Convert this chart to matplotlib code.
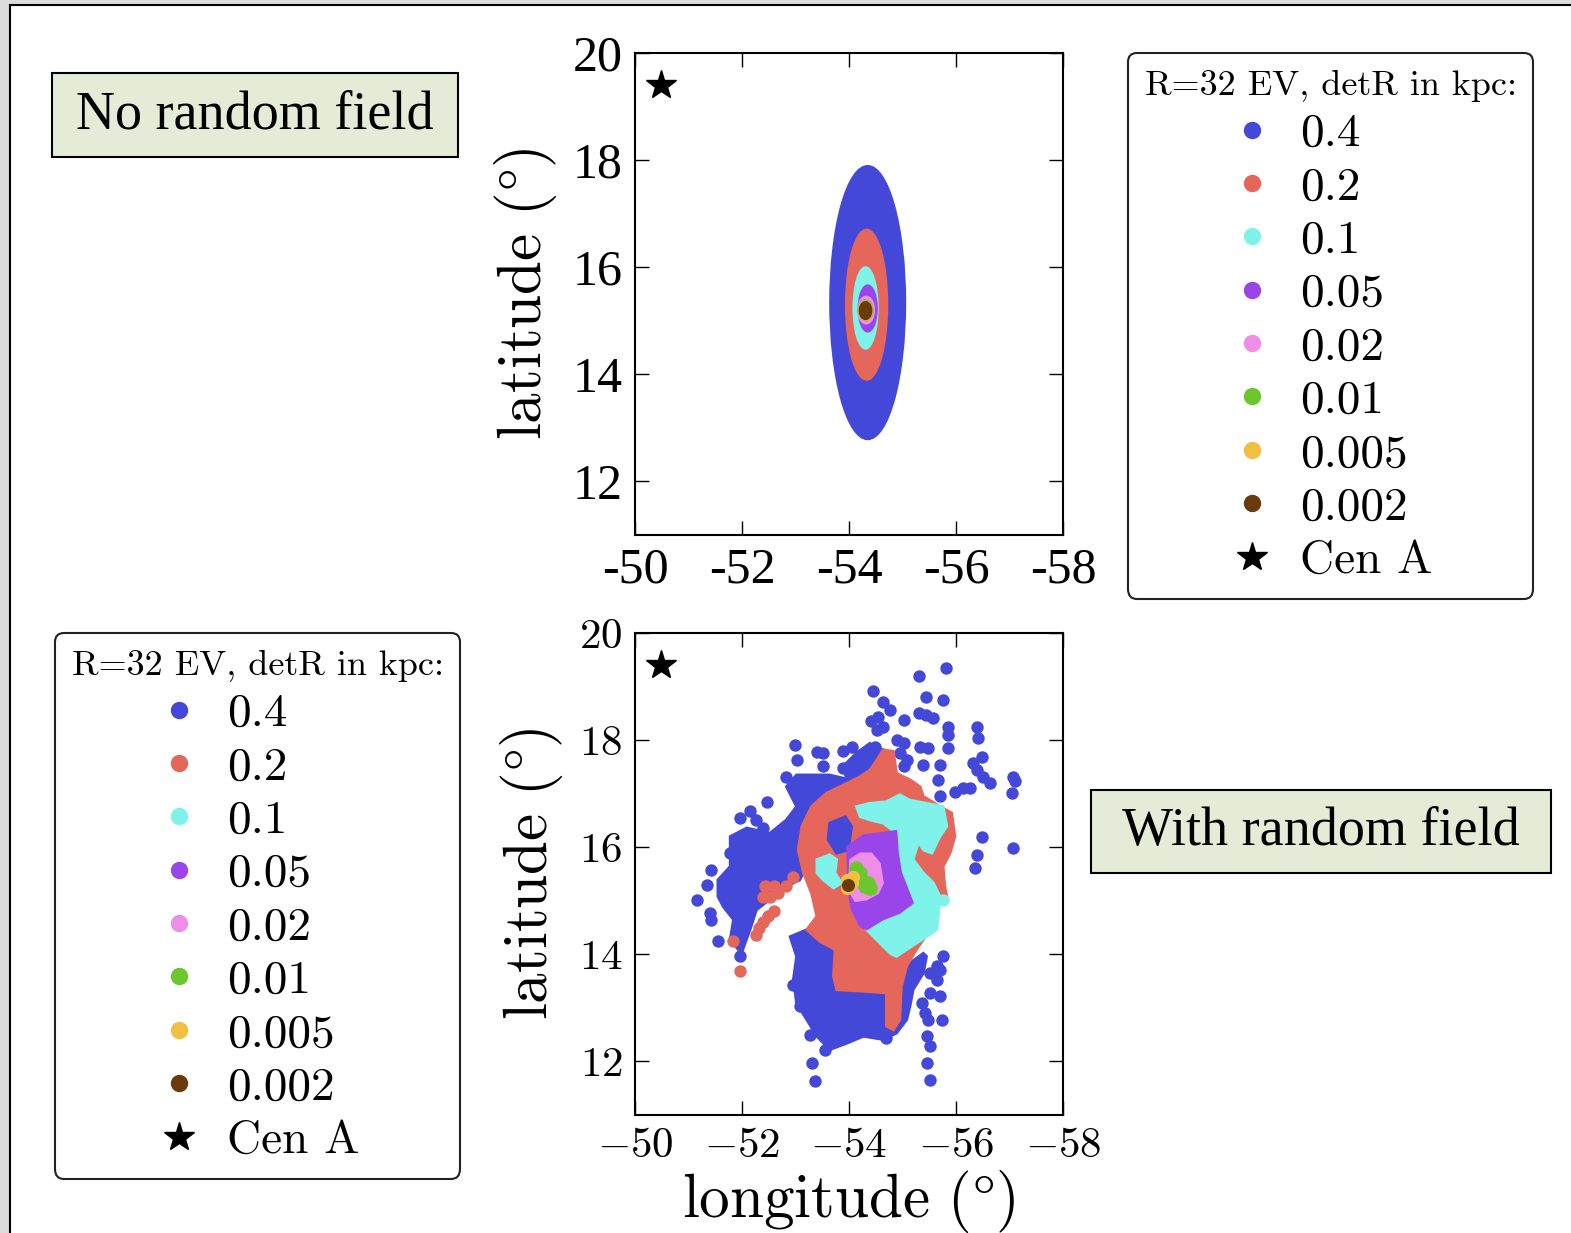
import matplotlib
matplotlib.use("Agg")
import matplotlib.pyplot as plt
from matplotlib.lines import Line2D
from matplotlib.patches import Ellipse, Rectangle

plt.rcParams.update({
    "font.family": "cmr10",
    "mathtext.fontset": "cm",
    "axes.unicode_minus": False,
    "axes.linewidth": 1.5,
})

# ---------------------------------------------------------------- data
levels = ["0.4", "0.2", "0.1", "0.05", "0.02", "0.01", "0.005", "0.002"]
colors = ["#4448d8", "#e5665a", "#7ff3ea", "#9a45ea", "#ee8ee6",
          "#6cc72d", "#f2c040", "#6b3a0a"]

cen_lon, cen_lat = -50.49, 19.40

lon_ticks = [-50, -52, -54, -56, -58]
lat_ticks = [12, 14, 16, 18, 20]

# top panel (no random field): nested clouds, centre and half-extent
top_lon_c = [-54.35, -54.33, -54.31, -54.35, -54.32, -54.31, -54.31, -54.31]
top_lat_c = [15.34, 15.30, 15.24, 15.23, 15.20, 15.20, 15.19, 15.19]
top_lon_hw = [0.70, 0.385, 0.225, 0.17, 0.15, 0.13, 0.12, 0.11]
top_lat_hh = [2.55, 1.40, 0.76, 0.43, 0.25, 0.18, 0.17, 0.16]

# bottom panel (with random field)
# blue (0.4): dense regions outlined + scattered events
blue_w_lon = [-51.78, -52.09, -52.52, -52.83, -53.02, -52.83, -53.02, -53.64, -54.02,
              -54.02, -53.64, -53.40, -53.27, -53.08, -52.83, -52.59, -52.27, -52.15,
              -51.99, -51.78, -51.84, -51.65, -51.55, -51.55, -51.78]
blue_w_lat = [16.20, 16.36, 16.26, 16.51, 16.76, 17.13, 17.35, 17.35, 17.26,
              16.76, 16.51, 16.20, 15.77, 15.39, 15.27, 15.08, 14.83, 14.46,
              14.02, 14.27, 14.65, 14.89, 15.08, 15.39, 15.64]
blue_n_lon = [-53.89, -54.14, -54.39, -54.64, -54.52, -54.39, -54.21, -53.96]
blue_n_lat = [17.51, 17.76, 17.94, 17.82, 17.63, 17.44, 17.32, 17.26]
blue_s_lon = [-52.90, -53.21, -53.46, -53.74, -53.77, -54.27, -54.70, -54.89, -55.14,
              -55.39, -55.45, -55.39, -55.20, -55.14, -55.08, -54.89, -54.64, -54.27,
              -53.96, -53.64, -53.40, -53.21, -53.02, -52.96, -53.02]
blue_s_lat = [14.33, 14.46, 14.24, 14.09, 13.53, 13.40, 13.34, 13.53, 13.84,
              14.02, 13.96, 13.65, 13.34, 13.03, 12.78, 12.53, 12.41, 12.47,
              12.34, 12.22, 12.47, 12.78, 13.09, 13.53, 13.96]
blue_in_lon = [-53.64, -53.93, -54.05, -53.99, -53.77, -53.61]
blue_in_lat = [16.45, 16.57, 16.39, 15.95, 15.89, 16.14]
blue_pts_lon = [-55.81, -55.31, -54.44, -55.44, -55.76, -54.64, -54.77, -55.31, -55.44,
                -55.58, -55.02, -54.42, -54.52, -55.86, -56.39, -55.86, -56.42, -54.89,
                -55.02, -55.33, -55.48, -52.99, -53.40, -53.52, -53.89, -54.05, -54.49,
                -55.86, -56.48, -56.32, -56.39, -56.51, -56.64, -57.07, -57.10, -57.04,
                -55.98, -56.14, -56.26, -55.39, -55.70, -55.67, -55.70, -53.02, -53.52,
                -53.89, -52.83, -52.96, -53.15, -53.40, -53.64, -52.46, -51.96, -52.15,
                -52.27, -52.40, -51.90, -51.96, -51.78, -51.43, -51.34, -51.15, -51.40,
                -51.43, -51.56, -51.96, -56.48, -56.39, -56.36, -57.07, -55.51, -55.64,
                -55.70, -55.42, -55.48, -55.45, -55.51, -55.45, -55.51, -53.27, -53.55,
                -53.30, -53.36, -53.08, -52.96, -54.55, -54.70, -55.73, -55.51, -55.36,
                -55.70, -55.76, -55.64, -54.55, -54.64, -54.95, -55.08, -55.02]
blue_pts_lat = [19.35, 19.19, 18.91, 18.81, 18.75, 18.72, 18.56, 18.50, 18.47,
                18.41, 18.38, 18.35, 18.19, 18.25, 18.25, 18.10, 18.04, 18.00,
                17.94, 17.88, 17.85, 17.91, 17.77, 17.76, 17.79, 17.88, 17.88,
                17.85, 17.69, 17.57, 17.44, 17.32, 17.20, 17.32, 17.23, 17.01,
                17.04, 17.10, 17.10, 17.54, 17.54, 17.26, 16.95, 17.63, 17.51,
                17.48, 17.32, 17.13, 17.07, 17.13, 17.16, 16.85, 16.54, 16.67,
                16.51, 16.36, 16.14, 15.95, 15.89, 15.58, 15.30, 15.02, 14.77,
                14.65, 14.24, 13.96, 16.20, 15.86, 15.61, 15.98, 13.65, 13.53,
                13.22, 12.90, 12.78, 12.47, 12.28, 11.97, 11.66, 12.50, 12.22,
                11.97, 11.63, 13.03, 13.43, 12.53, 12.44, 12.78, 13.28, 13.09,
                13.71, 13.96, 13.78, 18.44, 18.25, 17.76, 17.63, 17.51]

# red (0.2)
red_lon = [-54.64, -54.83, -54.89, -55.14, -55.33, -55.39, -55.70, -55.92, -55.98,
           -55.89, -55.76, -55.79, -55.83, -55.58, -55.48, -55.26, -55.08, -54.98,
           -54.95, -54.83, -54.70, -54.70, -54.27, -53.77, -53.71, -53.74, -53.46,
           -53.21, -53.40, -53.30, -53.15, -53.05, -53.12, -53.30, -53.58, -53.89,
           -54.21, -54.39, -54.52]
red_lat = [17.82, 17.79, 17.38, 17.26, 17.13, 16.95, 16.76, 16.64, 16.20,
           15.89, 15.64, 15.27, 15.08, 14.89, 14.40, 14.09, 13.78, 13.40,
           12.78, 12.59, 12.66, 13.28, 13.31, 13.34, 13.59, 14.09, 14.24,
           14.46, 14.71, 15.14, 15.52, 15.95, 16.39, 16.76, 17.01, 17.16,
           17.32, 17.44, 17.63]
red_pts_lon = [-52.43, -52.59, -52.52, -52.68, -52.40, -52.59, -52.49, -52.40,
               -52.31, -52.27, -51.84, -51.96, -52.83, -52.96]
red_pts_lat = [15.27, 15.27, 15.08, 15.14, 15.08, 14.80, 14.71, 14.61,
               14.49, 14.37, 14.24, 13.68, 15.27, 15.45]

# cyan (0.1)
cyan_lon = [-54.14, -54.39, -54.70, -54.95, -55.14, -55.45, -55.76, -55.83, -55.70,
            -55.55, -55.39, -55.30, -55.20, -55.39, -55.58, -55.70, -55.67, -55.64,
            -55.45, -55.08, -54.89, -54.77, -54.58, -54.33, -54.64, -54.95, -55.20,
            -55.14, -55.02, -54.95, -54.89, -54.64, -54.39, -54.21]
cyan_lat = [16.76, 16.82, 16.85, 16.98, 16.88, 16.82, 16.76, 16.39, 16.20,
            15.89, 15.95, 16.10, 15.77, 15.52, 15.33, 15.08, 14.71, 14.46,
            14.33, 14.09, 13.96, 14.02, 14.21, 14.46, 14.65, 14.77, 14.89,
            15.14, 15.39, 15.77, 16.26, 16.45, 16.51, 16.57]
cyan_w_lon = [-53.40, -53.64, -53.77, -53.74, -53.86, -53.71, -53.52, -53.40]
cyan_w_lat = [15.77, 15.86, 15.77, 15.52, 15.33, 15.24, 15.39, 15.52]
cyan_pts_lon = [-55.76]
cyan_pts_lat = [15.02]

# purple (0.05) and pink (0.02)
purple_lon = [-53.96, -54.27, -54.52, -54.89, -54.92, -54.98, -55.08, -55.20,
              -54.95, -54.64, -54.33, -54.21, -54.05, -53.99]
purple_lat = [16.01, 16.23, 16.26, 16.31, 15.89, 15.52, 15.27, 14.96,
              14.77, 14.65, 14.46, 14.52, 14.83, 15.14]
pink_lon = [-54.02, -54.21, -54.42, -54.58, -54.64, -54.55, -54.33, -54.11, -53.99]
pink_lat = [15.77, 15.89, 15.89, 15.70, 15.33, 15.14, 15.02, 14.99, 15.21]

# green (0.01), yellow (0.005), brown (0.002)
green_lon = [-54.14, -54.21, -54.11, -54.36, -54.39, -54.30]
green_lat = [15.61, 15.52, 15.45, 15.33, 15.24, 15.27]
yellow_lon = [-53.96, -54.05, -53.96, -54.08]
yellow_lat = [15.39, 15.33, 15.24, 15.45]
brown_lon = [-53.99]
brown_lat = [15.30]

# ---------------------------------------------------------------- figure
fig = plt.figure(figsize=(15.71, 12.33), dpi=100)

# slide frame
fig.patches.append(Rectangle((0, 0), 9 / 1571, 1, transform=fig.transFigure,
                             facecolor="#dcdcdc", edgecolor="none"))
fig.patches.append(Rectangle((0, 1 - 5 / 1233), 1, 5 / 1233, transform=fig.transFigure,
                             facecolor="#dcdcdc", edgecolor="none"))
fig.add_artist(Line2D([10 / 1571, 10 / 1571], [0, 1 - 5 / 1233],
                      transform=fig.transFigure, color="black", lw=1.5))
fig.add_artist(Line2D([10 / 1571, 1], [1 - 5 / 1233, 1 - 5 / 1233],
                      transform=fig.transFigure, color="black", lw=1.5))

ax_top = fig.add_axes([0.4042, 0.5661, 0.2724, 0.3909])
ax_bot = fig.add_axes([0.4042, 0.0957, 0.2724, 0.3909])

# top panel
for i in range(len(levels)):
    ax_top.add_patch(Ellipse((top_lon_c[i], top_lat_c[i]), 2 * top_lon_hw[i],
                             2 * top_lat_hh[i], facecolor=colors[i],
                             edgecolor=colors[i], lw=1.5))
ax_top.plot(cen_lon, cen_lat, marker="*", color="black", ms=22, ls="")

# bottom panel
c_blue, c_red, c_cyan, c_purple, c_pink, c_green, c_yellow, c_brown = colors
pt = dict(s=80, linewidths=0)
for lo, la in [(blue_w_lon, blue_w_lat), (blue_n_lon, blue_n_lat), (blue_s_lon, blue_s_lat)]:
    ax_bot.fill(lo, la, color=c_blue, lw=2)
ax_bot.scatter(blue_pts_lon, blue_pts_lat, color=c_blue, **pt)
ax_bot.fill(red_lon, red_lat, color=c_red, lw=2)
ax_bot.scatter(red_pts_lon, red_pts_lat, color=c_red, **pt)
ax_bot.fill(blue_in_lon, blue_in_lat, color=c_blue, lw=2)
ax_bot.fill(cyan_lon, cyan_lat, color=c_cyan, lw=2)
ax_bot.fill(cyan_w_lon, cyan_w_lat, color=c_cyan, lw=2)
ax_bot.scatter(cyan_pts_lon, cyan_pts_lat, color=c_cyan, **pt)
ax_bot.fill(purple_lon, purple_lat, color=c_purple, lw=1)
ax_bot.fill(pink_lon, pink_lat, color=c_pink, lw=1)
ax_bot.scatter(green_lon, green_lat, color=c_green, s=110, linewidths=0)
ax_bot.scatter(yellow_lon, yellow_lat, color=c_yellow, s=90, linewidths=0)
ax_bot.scatter(brown_lon, brown_lat, color=c_brown, s=90, linewidths=0)
ax_bot.plot(cen_lon, cen_lat, marker="*", color="black", ms=22, ls="")

for ax in (ax_top, ax_bot):
    ax.set_xlim(-50, -58)
    ax.set_ylim(11, 20)
    ax.set_xticks(lon_ticks)
    ax.set_yticks(lat_ticks)
    ax.tick_params(direction="in", top=True, right=True, length=10, width=1, pad=9)
    ax.set_ylabel(r"$\mathrm{latitude}\ (\degree)$", fontsize=44, labelpad=10)

ax_top.set_xticklabels([str(t) for t in lon_ticks], fontfamily="Liberation Serif", fontsize=36)
ax_top.set_yticklabels([str(t) for t in lat_ticks], fontfamily="Liberation Serif", fontsize=36)
ax_bot.set_xticklabels([f"${t}$" for t in lon_ticks], fontsize=31)
ax_bot.set_yticklabels([f"${t}$" for t in lat_ticks], fontsize=31)
ax_bot.set_xlabel(r"$\mathrm{longitude}\ (\degree)$", fontsize=44, labelpad=2)

# legends
handles = [Line2D([], [], marker="o", ls="", color=c, ms=11.5) for c in colors]
handles.append(Line2D([], [], marker="*", ls="", color="black", ms=22))
labels = levels + ["Cen A"]
for anchor in [(1128 / 1571, 1 - 53 / 1233), (55 / 1571, 1 - 633 / 1233)]:
    leg = fig.legend(handles, labels, loc="upper left", bbox_to_anchor=anchor,
                     title="R=32 EV, detR in kpc:", title_fontsize=26, fontsize=34,
                     handlelength=1.0, handletextpad=0.5, labelspacing=0.24,
                     borderpad=0.35, fancybox=True, framealpha=1, edgecolor="#222222",
                     borderaxespad=0)
    leg.get_frame().set_linewidth(1.5)

# annotation boxes
box_fc = "#e4ecd8"
for (x, y, w, h, txt) in [(52, 73, 406, 84, "No random field"),
                          (1091, 790, 460, 83, "With random field")]:
    fig.patches.append(Rectangle((x / 1571, 1 - (y + h) / 1233), w / 1571, h / 1233,
                                 transform=fig.transFigure, facecolor=box_fc,
                                 edgecolor="black", lw=1.5))
    fig.text((x + w / 2) / 1571, 1 - (y + h / 2) / 1233, txt, ha="center", va="center",
             fontfamily="Liberation Serif", fontsize=39)

fig.savefig("out.png", dpi=100)
